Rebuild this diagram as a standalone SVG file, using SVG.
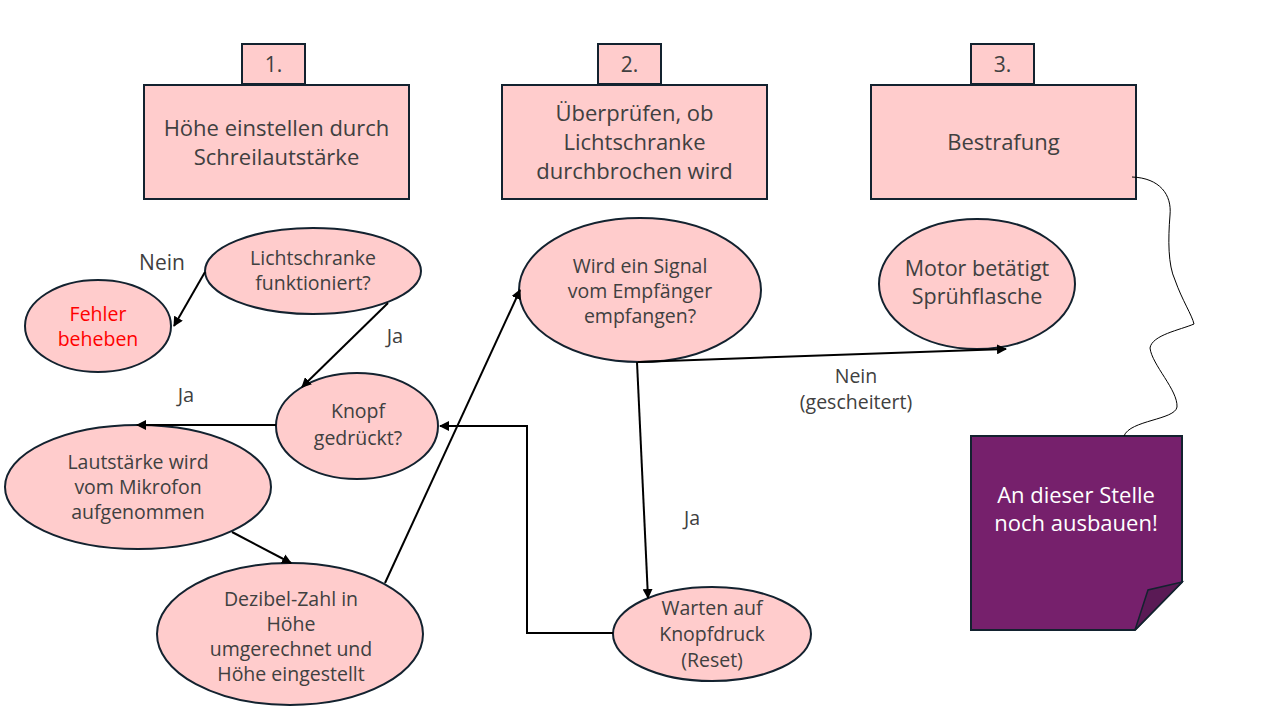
<svg xmlns="http://www.w3.org/2000/svg" width="1280" height="720" viewBox="0 0 1280 720">
<defs>
<style>
.box{fill:#FFCCCC;stroke:#13222F;stroke-width:2}
.el{fill:#FFCCCC;stroke:#13222F;stroke-width:2}
.t{font-family:"Open Sans","Liberation Sans",sans-serif;fill:#404040;text-anchor:middle}
.big{font-size:22px}
.mid{font-size:19.5px}
.lbl{font-family:"Open Sans","Liberation Sans",sans-serif;fill:#404040;text-anchor:middle;font-size:19.5px}
.c{fill:none;stroke:#000;stroke-width:2;marker-end:url(#ah)}
</style>
<marker id="ah" viewBox="0 0 10 10" refX="9" refY="5" markerWidth="5" markerHeight="5" orient="auto-start-reverse" markerUnits="strokeWidth">
<path d="M0,0 L10,5 L0,10 z" fill="#000"/>
</marker>
</defs>
<rect width="1280" height="720" fill="#fff"/>

<g id="step1">
<rect class="box" x="242" y="44" width="63" height="40"/>
<text class="t" style="font-size:21px" x="273.5" y="72">1.</text>
<rect class="box" x="144" y="85" width="265" height="114"/>
<text class="t big" x="276.5" y="136">Höhe einstellen durch</text>
<text class="t big" x="276.5" y="165">Schreilautstärke</text>
</g>
<g id="step2">
<rect class="box" x="598" y="44" width="63" height="40"/>
<text class="t" style="font-size:21px" x="629.5" y="72">2.</text>
<rect class="box" x="502" y="85" width="265" height="114"/>
<text class="t big" x="634.5" y="121">Überprüfen, ob</text>
<text class="t big" x="634.5" y="150">Lichtschranke</text>
<text class="t big" x="634.5" y="179">durchbrochen wird</text>
</g>
<g id="step3">
<rect class="box" x="971" y="44" width="63" height="40"/>
<text class="t" style="font-size:21px" x="1002.5" y="72">3.</text>
<rect class="box" x="871" y="85" width="265" height="114"/>
<text class="t big" x="1003.5" y="150">Bestrafung</text>
</g>

<g id="lichtschranke">
<ellipse class="el" cx="313" cy="271" rx="108" ry="43"/>
<text class="t mid" x="313" y="265">Lichtschranke</text>
<text class="t mid" x="313" y="290">funktioniert?</text>
</g>
<g id="fehler">
<ellipse class="el" cx="98" cy="326" rx="73" ry="46"/>
<text class="t mid" x="98" y="321" style="fill:#FF0000">Fehler</text>
<text class="t mid" x="98" y="346" style="fill:#FF0000">beheben</text>
</g>
<g id="knopf">
<ellipse class="el" cx="357" cy="426" rx="81" ry="53"/>
<text class="t mid" x="358" y="418">Knopf</text>
<text class="t mid" x="358" y="445">gedrückt?</text>
</g>
<g id="lautstaerke">
<ellipse class="el" cx="138" cy="487" rx="133" ry="62"/>
<text class="t mid" x="138" y="469">Lautstärke wird</text>
<text class="t mid" x="138" y="494">vom Mikrofon</text>
<text class="t mid" x="138" y="519">aufgenommen</text>
</g>
<g id="dezibel">
<ellipse class="el" cx="290" cy="634" rx="133" ry="71"/>
<text class="t mid" x="291" y="606">Dezibel-Zahl in</text>
<text class="t mid" x="291" y="631">Höhe</text>
<text class="t mid" x="291" y="656">umgerechnet und</text>
<text class="t mid" x="291" y="681">Höhe eingestellt</text>
</g>
<g id="signal">
<ellipse class="el" cx="640" cy="290" rx="121" ry="72"/>
<text class="t mid" x="640" y="273">Wird ein Signal</text>
<text class="t mid" x="640" y="298">vom Empfänger</text>
<text class="t mid" x="640" y="323">empfangen?</text>
</g>
<g id="motor">
<ellipse class="el" cx="977" cy="284" rx="98" ry="65"/>
<text class="t" style="font-size:21.5px" x="977" y="276">Motor betätigt</text>
<text class="t" style="font-size:21.5px" x="977" y="304">Sprühflasche</text>
</g>
<g id="warten">
<ellipse class="el" cx="712" cy="634" rx="99" ry="47"/>
<text class="t mid" x="712" y="615">Warten auf</text>
<text class="t mid" x="712" y="641">Knopfdruck</text>
<text class="t mid" x="712" y="667">(Reset)</text>
</g>
<g id="notiz">
<path d="M971,436 H1182 V582 L1135,630 H971 Z" fill="#76206C" stroke="#13222F" stroke-width="2"/>
<path d="M1182,582 L1135,630 L1148,590 Z" fill="#5A1A55" stroke="#13222F" stroke-width="1.5"/>
<text x="1076" y="503" style="font-family:'Open Sans','Liberation Sans',sans-serif;font-size:22px;fill:#fff;text-anchor:middle">An dieser Stelle</text>
<text x="1076" y="531" style="font-family:'Open Sans','Liberation Sans',sans-serif;font-size:22px;fill:#fff;text-anchor:middle">noch ausbauen!</text>
</g>

<g id="connectors">
<path class="c" d="M205,272 L174,326"/>
<path class="c" d="M388,303 L302,387"/>
<path class="c" d="M276,425 L137,425"/>
<path class="c" d="M232,532 L291,563"/>
<path class="c" d="M385,583 L520,290"/>
<path class="c" d="M638,362 L1006,349"/>
<path class="c" d="M637,362 L648,598"/>
<path class="c" d="M613,633 H527 V426 H440"/>
<path d="M1132,177 C1160,178 1172,195 1170,215 C1168,240 1168,265 1175,280 C1182,300 1192,315 1194,324 C1180,330 1152,335 1150,348 C1152,365 1178,390 1177,407 C1175,420 1130,420 1124,436" fill="none" stroke="#000" stroke-width="1"/>
</g>

<g id="labels">
<text class="lbl" x="162" y="270" style="font-size:21px">Nein</text>
<text class="lbl" x="395" y="343" style="font-size:20px">Ja</text>
<text class="lbl" x="186" y="402" style="font-size:20px">Ja</text>
<text class="lbl" x="856" y="383">Nein</text>
<text class="lbl" x="856" y="409">(gescheitert)</text>
<text class="lbl" x="692" y="525">Ja</text>
</g>
</svg>
